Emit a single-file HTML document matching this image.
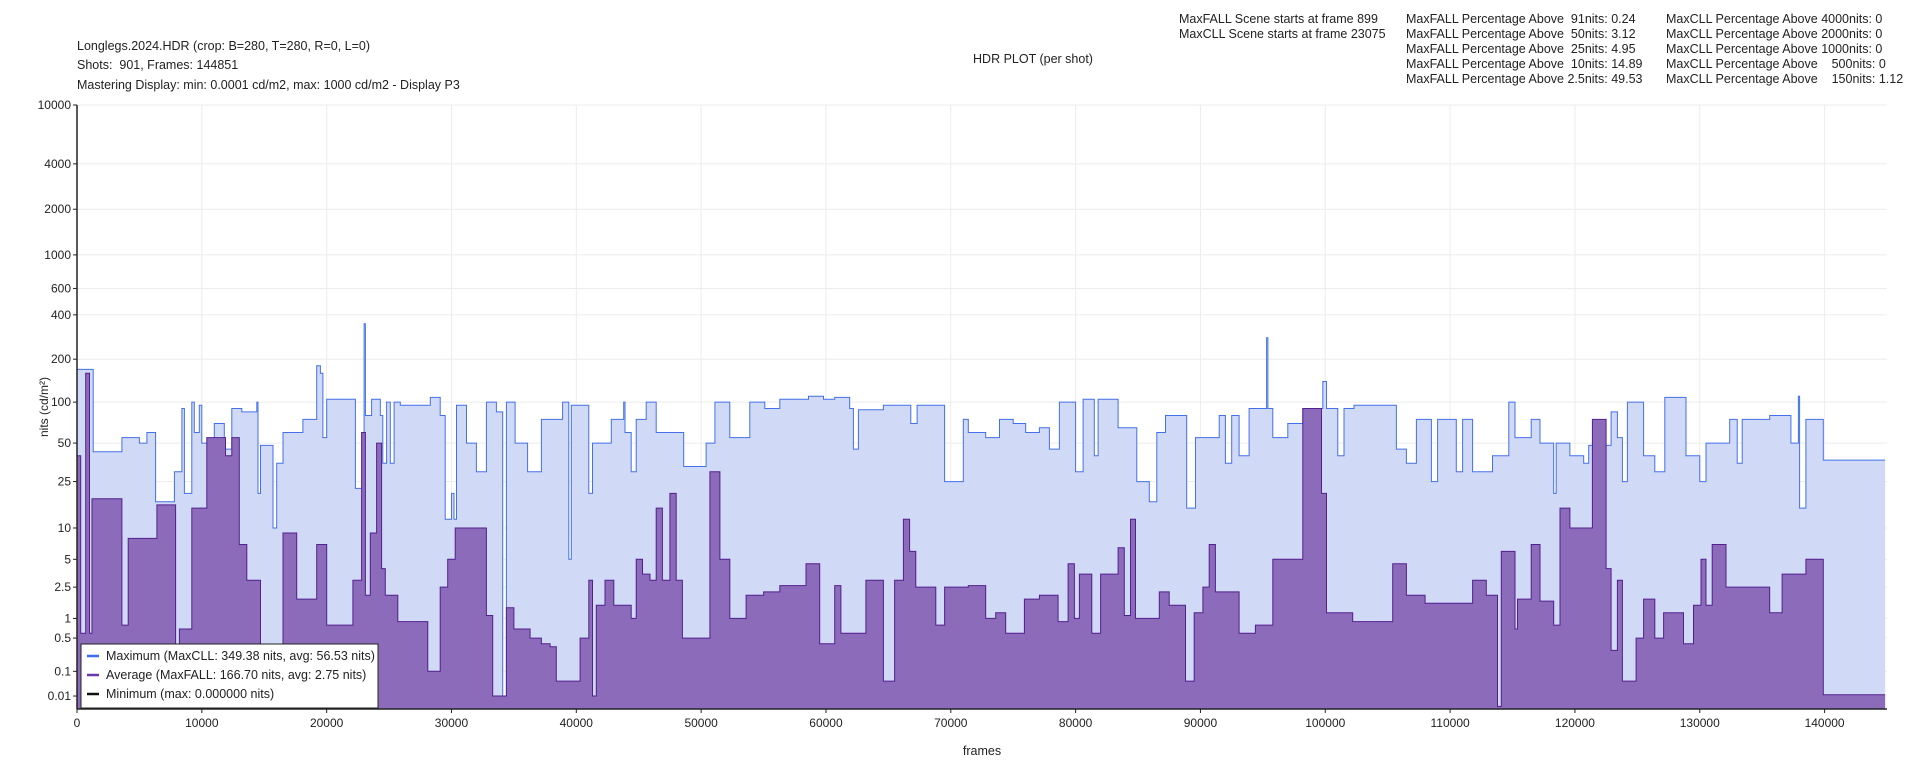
<!DOCTYPE html>
<html><head><meta charset="utf-8"><style>
body{margin:0;background:#fff;width:1920px;height:768px;overflow:hidden;font-family:"Liberation Sans",Arial,sans-serif;}
svg{display:block}
text{font-family:"Liberation Sans",Arial,sans-serif;fill:#222}
</style></head><body>
<svg id="chart" width="1920" height="768" viewBox="0 0 1920 768" xmlns="http://www.w3.org/2000/svg">
<g font-size="12.5">
<text x="77" y="50">Longlegs.2024.HDR (crop: B=280, T=280, R=0, L=0)</text>
<text x="77" y="69" xml:space="preserve">Shots:  901, Frames: 144851</text>
<text x="77" y="89">Mastering Display: min: 0.0001 cd/m2, max: 1000 cd/m2 - Display P3</text>
<text x="1033" y="63" text-anchor="middle">HDR PLOT (per shot)</text>
<text x="1179" y="23">MaxFALL Scene starts at frame 899</text>
<text x="1179" y="38">MaxCLL Scene starts at frame 23075</text>
<text x="1406" y="23" xml:space="preserve">MaxFALL Percentage Above  91nits: 0.24</text>
<text x="1406" y="38" xml:space="preserve">MaxFALL Percentage Above  50nits: 3.12</text>
<text x="1406" y="53" xml:space="preserve">MaxFALL Percentage Above  25nits: 4.95</text>
<text x="1406" y="68" xml:space="preserve">MaxFALL Percentage Above  10nits: 14.89</text>
<text x="1406" y="83" xml:space="preserve">MaxFALL Percentage Above 2.5nits: 49.53</text>
<text x="1666" y="23" xml:space="preserve">MaxCLL Percentage Above 4000nits: 0</text>
<text x="1666" y="38" xml:space="preserve">MaxCLL Percentage Above 2000nits: 0</text>
<text x="1666" y="53" xml:space="preserve">MaxCLL Percentage Above 1000nits: 0</text>
<text x="1666" y="68" xml:space="preserve">MaxCLL Percentage Above    500nits: 0</text>
<text x="1666" y="83" xml:space="preserve">MaxCLL Percentage Above    150nits: 1.12</text>
</g>
<g id="grid"></g>
<g id="series"></g>
<g id="axes"></g>
<text x="48" y="407" font-size="12" text-anchor="middle" transform="rotate(-90 48 407)">nits (cd/m²)</text>
<text x="982" y="755" font-size="12.5" text-anchor="middle">frames</text>
<g>
<rect x="81" y="644" width="297" height="64" fill="#fff" stroke="#222" stroke-width="1"/>
<line x1="87" y1="656" x2="99" y2="656" stroke="#3a6bf0" stroke-width="2.5"/>
<text x="106" y="660" font-size="12.5">Maximum (MaxCLL: 349.38 nits, avg: 56.53 nits)</text>
<line x1="87" y1="675" x2="99" y2="675" stroke="#6a3aa8" stroke-width="2.5"/>
<text x="106" y="679" font-size="12.5">Average (MaxFALL: 166.70 nits, avg: 2.75 nits)</text>
<line x1="87" y1="694" x2="99" y2="694" stroke="#111" stroke-width="2.5"/>
<text x="106" y="698" font-size="12.5">Minimum (max: 0.000000 nits)</text>
</g>
</svg>
<script>
const yTicks=[0.01,0.1,0.5,1,2.5,5,10,25,50,100,200,400,600,1000,2000,4000,10000];
const yTickLabels=["0.01","0.1","0.5","1","2.5","5","10","25","50","100","200","400","600","1000","2000","4000","10000"];
const xTicks=[0,10000,20000,30000,40000,50000,60000,70000,80000,90000,100000,110000,120000,130000,140000];
const totalFrames=144851;
const maxFrames=[0,1300,3600,5000,5600,6300,7800,8400,8600,9200,9400,9800,10000,11000,11800,12400,13200,14400,14500,14700,15700,16000,16500,18100,19200,19500,19700,20000,22300,23000,23100,23600,24300,24500,24800,25100,25400,25900,28300,29100,29500,30000,30200,30400,31200,32000,32800,33600,34100,34400,35100,36100,37200,38900,39400,39600,41000,41300,42800,43800,43900,44400,44800,45600,46400,48600,50400,51100,52300,53900,55100,56300,58600,59800,60700,61900,62200,62600,64600,66800,67300,69500,71000,71400,72800,73900,75000,76000,77100,77900,78700,80000,80600,81500,81800,83400,84900,85900,86500,87200,88900,89600,91500,92000,92500,93100,93900,95300,95400,95800,97000,98200,99800,100100,101000,101500,102300,105700,106500,107300,108500,109000,110500,111000,111800,113400,114700,115200,116500,117200,118300,118500,119600,120700,121100,122900,123400,123800,124200,125500,126400,127200,128900,130000,130500,132400,133000,133400,135600,137300,137900,138000,138500,139900];
const maxValues=[170,43,55,50,60,17,30,90,20,100,60,95,50,70,45,90,85,100,20,48,10,35,60,75,180,160,55,105,22,349,80,105,80,35,100,35,100,95,108,80,12,20,12,95,50,30,100,85,0.01,100,50,30,75,100,5,95,20,50,75,100,60,30,75,100,60,33,50,100,55,100,90,105,110,105,108,90,45,88,95,70,95,25,75,60,55,75,70,60,65,45,100,30,105,40,105,65,25,17,60,80,15,55,80,35,80,40,90,280,90,55,70,90,140,90,40,90,95,45,35,75,25,75,30,75,30,40,100,55,75,50,20,50,40,35,48,85,55,25,100,40,30,108,40,25,50,75,35,75,80,50,110,15,75,37];
const avgFrames=[0,300,700,1000,1200,3600,4100,6400,7900,8200,9200,10400,11900,12400,13000,13600,14700,15700,16500,17600,19200,20000,22100,22800,23100,23500,24000,24400,24700,25700,28100,29100,29700,30300,32800,33300,34400,35000,36300,37200,37900,38400,40300,41000,41300,41600,42300,43000,44400,44800,45300,45900,46400,46900,47500,48000,48500,50700,51500,52300,53600,55000,56300,58400,59500,60700,61200,63200,64600,65500,66200,66700,67200,68800,69500,71400,72800,73600,74400,75900,77100,78600,79400,79900,80300,81300,82000,83400,83900,84400,84800,86700,87500,88800,89500,90200,90700,91200,93100,94400,95800,98200,99700,100100,102200,105400,106500,108000,111800,112900,113800,114100,115200,115400,116500,117200,118300,118800,119600,121400,122500,122900,123400,123800,124900,125500,126400,127100,128700,129500,130100,130500,131000,132100,135600,136600,138500,139900];
const avgValues=[40,0.6,160,0.6,18,0.8,8,16,0.01,0.7,15,55,40,55,7,3,0.3,0.1,9,1.8,7,0.8,3,60,2,9,50,4,2,0.9,0.1,2.5,5,10,1.1,0.01,1.4,0.7,0.5,0.4,0.35,0.05,0.5,3,0.01,1.5,3,1.5,1,5,3.5,3,15,3,20,3,0.5,30,5,1,2,2.2,2.6,4.5,0.4,2.6,0.6,3,0.05,3,12,6,2.5,0.8,2.5,2.6,1,1.2,0.6,1.8,2,0.9,4.5,1,3.5,0.6,3.5,6.5,1.1,12,1,2.2,1.5,0.05,1.2,2.5,7,2.2,0.6,0.8,5,90,20,1.2,0.9,4.5,2,1.6,3,2,0.0005,6,0.7,1.8,7,1.7,0.8,15,10,75,4,0.3,3,0.05,0.5,1.8,0.5,1.2,0.4,1.5,5,1.5,7,2.5,1.2,3.5,5,0.012];

const X0=77,X1=1887,YB=709,YT=105,XMAX=145000;
function xs(f){return X0+(f/XMAX)*(X1-X0);}
function pq(L){const Y=Math.max(L,0)/10000,m1=0.1593017578125,m2=78.84375,c1=0.8359375,c2=18.8515625,c3=18.6875;const p=Math.pow(Y,m1);return Math.pow((c1+c2*p)/(1+c3*p),m2);}
function ys(v){return YB-pq(v)*(YB-YT);}
const NS="http://www.w3.org/2000/svg";
function mk(tag,attrs,parent){const e=document.createElementNS(NS,tag);for(const k in attrs)e.setAttribute(k,attrs[k]);parent.appendChild(e);return e;}
const grid=document.getElementById('grid'),axes=document.getElementById('axes'),series=document.getElementById('series');
yTicks.forEach((t,i)=>{const y=ys(t);
 const g=mk('line',{x1:X0,x2:X1,y1:y,y2:y,stroke:'#ececec','stroke-width':1},grid);
 
 
 const tk=mk('line',{x1:X0-4,x2:X0,y1:y,y2:y,stroke:'#222'},axes);
 
 
 const tx=mk('text',{x:X0-6,y:y+4,'text-anchor':'end','font-size':12},axes);tx.textContent=yTickLabels[i];
 
 
});
xTicks.forEach(t=>{const x=xs(t);
 const g=mk('line',{x1:x,x2:x,y1:YT,y2:YB,stroke:'#ececec','stroke-width':1},grid);
 
 
 const tk=mk('line',{x1:x,x2:x,y1:YB,y2:YB+4,stroke:'#222'},axes);
 
 
 const tx=mk('text',{x:x,y:YB+18,'text-anchor':'middle','font-size':12},axes);tx.textContent=String(t);
 
 
});
function stepPath(fr,vals){let d='';for(let i=0;i<fr.length;i++){const x1=xs(fr[i]),x2=xs(i+1<fr.length?fr[i+1]:totalFrames),y=ys(vals[i]);d+=(i===0?'M':'L')+x1.toFixed(1)+','+y.toFixed(1)+'L'+x2.toFixed(1)+','+y.toFixed(1);}return d;}
const md=stepPath(maxFrames,maxValues);
const maxArea=mk('path',{d:md+'L'+xs(totalFrames)+','+YB+'L'+xs(0)+','+YB+'Z',fill:'#d0d9f6',stroke:'none'},series);


const maxLine=mk('path',{d:md,fill:'none',stroke:'#4470ea','stroke-width':1},series);


const ad=stepPath(avgFrames,avgValues);
const avgArea=mk('path',{d:ad+'L'+xs(totalFrames)+','+YB+'L'+xs(0)+','+YB+'Z',fill:'#8d6bbb',stroke:'none'},series);


const avgLine=mk('path',{d:ad,fill:'none',stroke:'#52208f','stroke-width':1},series);


const yl=mk('line',{x1:X0,x2:X0,y1:YT,y2:YB,stroke:'#222','stroke-width':1.5},axes);


const xl=mk('line',{x1:X0,x2:X1,y1:YB,y2:YB,stroke:'#222','stroke-width':1.5},axes);


</script>
</body></html>
